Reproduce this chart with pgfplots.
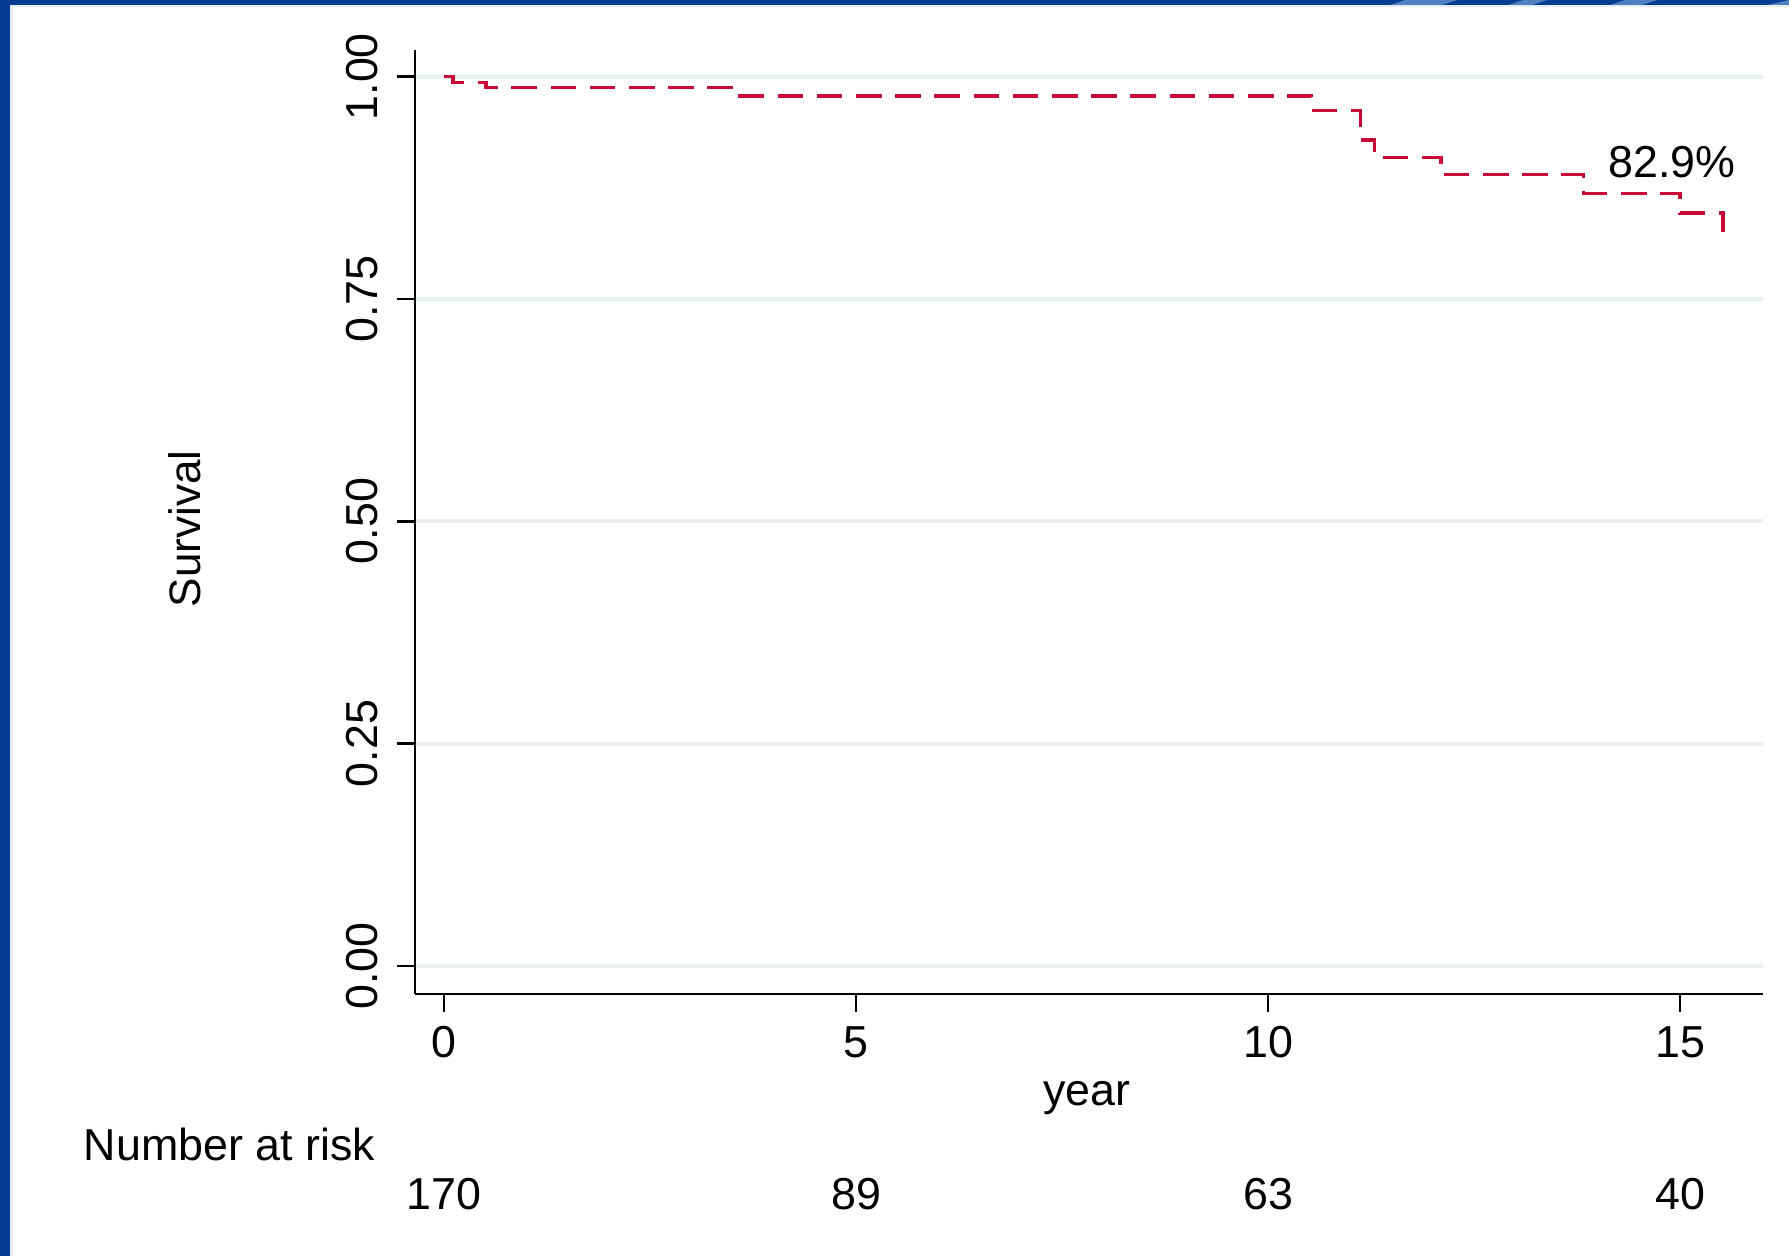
\documentclass[border=0pt]{standalone}
\usepackage{pgfplots}
\pgfplotsset{compat=1.18}
\usepackage{fontspec}
\setmainfont{Liberation Sans}
\definecolor{kmred}{RGB}{200,10,55}
\definecolor{frameblue}{RGB}{5,60,148}
\definecolor{stripeblue}{RGB}{80,128,192}
\definecolor{paleline}{RGB}{228,238,246}
\definecolor{gridc}{RGB}{234,240,241}
\begin{document}
\begin{tikzpicture}
\useasboundingbox (0pt,0pt) rectangle (447.25pt,314pt);
\begin{scope}[x=0.25pt,y=0.25pt]
\fill[white] (0,0) rectangle (1789,1256);
\fill[paleline] (0,1256) rectangle (1789,1248.5);
\fill[paleline] (0,0) rectangle (12.5,1256);
\fill[frameblue] (0,1256) rectangle (1789,1251);
\fill[frameblue] (0,0) rectangle (10,1256);
\fill[stripeblue] (1390,1251) -- (1405,1256) -- (1457,1256) -- (1442,1251) -- cycle;
\fill[stripeblue] (1508,1251) -- (1523,1256) -- (1547,1256) -- (1532,1251) -- cycle;
\fill[stripeblue] (1610,1251) -- (1625,1256) -- (1657,1256) -- (1642,1251) -- cycle;
\fill[stripeblue] (1767,1251) -- (1789,1256) -- (1789,1251) -- cycle;
\end{scope}
\begin{axis}[
  at={(103.75pt,65.5pt)}, anchor=south west,
  scale only axis, width=337pt, height=236pt,
  xmin=-0.352, xmax=16.007, ymin=-0.0315, ymax=1.030,
  axis x line*=bottom, axis y line*=left,
  axis line style={black, line width=0.6pt},
  xtick={0,5,10,15}, ytick={0,0.25,0.5,0.75,1},
  tick align=outside, major tick length=4.4pt,
  tick style={black, line width=0.6pt},
  ymajorgrids, grid style={gridc, line width=1pt},
  clip=false,
  /pgf/number format/assume math mode=true,
  ticklabel style={font=\fontsize{11.2}{13}\selectfont},
  yticklabel style={rotate=90, anchor=south, inner sep=0pt,
    /pgf/number format/.cd, fixed, fixed zerofill, precision=2},
  xticklabel style={anchor=north, inner sep=0pt},
  yticklabel shift=4.75pt,
  xticklabel shift=3.5pt,
]
\addplot[const plot, kmred, line width=0.85pt, dash pattern=on 6.4pt off 3.4pt] coordinates {
(0,1.000) (0.11,0.9937) (0.51,0.9876) (3.53,0.9783) (10.53,0.9619) (11.12,0.9286)
(11.29,0.9094) (12.10,0.890) (13.83,0.8688) (15.00,0.8467) (15.52,0.827) (15.55,0.827)};
\node[font=\fontsize{11.2}{13}\selectfont] at (axis cs:14.9,0.9035) {82.9\%};
\node[rotate=90, font=\fontsize{11}{13}\selectfont] at (axis cs:-3.143,0.4914) {Survival};
\node[font=\fontsize{11.2}{13}\selectfont] at (axis cs:7.8,-0.1484) {year};
\node[anchor=west, inner sep=0pt, font=\fontsize{11.2}{13}\selectfont] at (axis cs:-4.381,-0.2008) {Number at risk};
\node[font=\fontsize{11.2}{13}\selectfont] at (axis cs:0,-0.2564) {170};
\node[font=\fontsize{11.2}{13}\selectfont] at (axis cs:5,-0.2564) {89};
\node[font=\fontsize{11.2}{13}\selectfont] at (axis cs:10,-0.2564) {63};
\node[font=\fontsize{11.2}{13}\selectfont] at (axis cs:15,-0.2564) {40};
\end{axis}
\end{tikzpicture}
\end{document}
